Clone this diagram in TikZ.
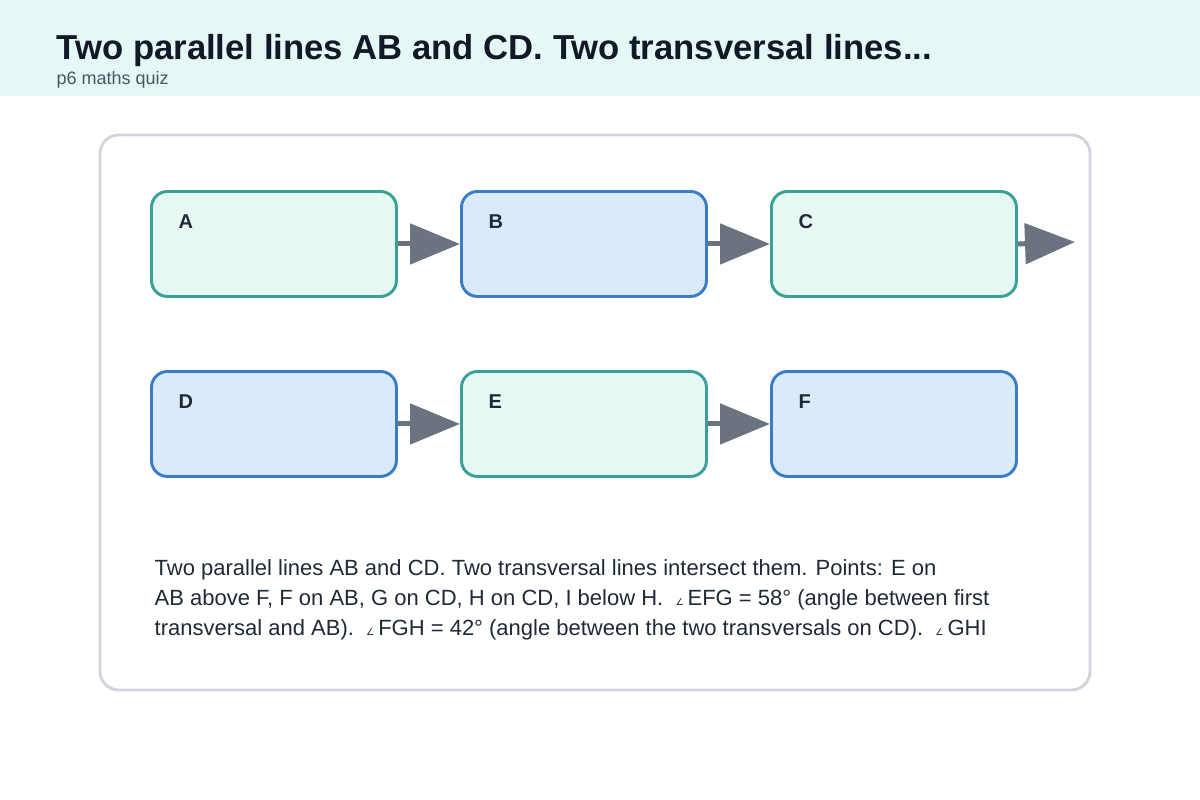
\documentclass[tikz,border=0pt]{standalone}
\usepackage{fontspec}
\setmainfont{Liberation Sans}
\newfontfamily\symfont{DejaVu Sans}
\usetikzlibrary{positioning}
\usetikzlibrary{arrows.meta}
\definecolor{headbg}{HTML}{E6F8F5}
\definecolor{titlecol}{HTML}{111827}
\definecolor{subcol}{HTML}{4B5563}
\definecolor{panelcol}{HTML}{D1D5DB}
\definecolor{tealfill}{HTML}{E6F7F4}
\definecolor{tealline}{HTML}{3AA198}
\definecolor{bluefill}{HTML}{DBEAFA}
\definecolor{blueline}{HTML}{3B7CC9}
\definecolor{arrowcol}{HTML}{6B7280}
\definecolor{textcol}{HTML}{1F2937}
\newcommand{\angsym}{{\symfont\scriptsize ∠}}

\begin{document}
\begin{tikzpicture}[
  x=0.75pt, y=-0.75pt,
  stepbox/.style = {draw, line width=2.2pt, rounded corners=12pt,
    minimum width=183.75pt, minimum height=78.75pt, anchor=north west},
  tealbox/.style = {stepbox, fill=tealfill, draw=tealline},
  bluebox/.style = {stepbox, fill=bluefill, draw=blueline},
  tag/.style = {font=\bfseries\fontsize{15}{18}\selectfont, text=textcol, anchor=base west},
  link/.style = {line width=3.75pt, draw=arrowcol,
    -{Triangle[length=37.5pt, width=30pt, fill=arrowcol]}},
  para/.style = {font=\fontsize{16.5}{20}\selectfont, text=textcol, anchor=base west}
]

  \useasboundingbox (0,0) rectangle (1200,800);
  \fill[headbg] (0,0) rectangle (1200,96);
  \node[anchor=base west, text=titlecol, font=\bfseries\fontsize{26}{30}\selectfont]
    (title) at (52,59) {Two parallel lines AB and CD. Two transversal lines...};
  \node[anchor=base west, text=subcol, font=\fontsize{13.5}{16}\selectfont]
    (sub) at (52,84) {p6 maths quiz};

  \draw[panelcol, line width=2.2pt, rounded corners=14pt] (100,135) rectangle (1090,690);

  % first row
  \node[tealbox] (A) at (150,190) {};
  \node[bluebox] (B) at (460,190) {};
  \node[tealbox] (C) at (770,190) {};
  % second row
  \node[bluebox] (D) at (150,370) {};
  \node[tealbox] (E) at (460,370) {};
  \node[bluebox] (F) at (770,370) {};

  \foreach \n in {A,B,C,D,E,F}
    \node[tag] at ([xshift=18pt,yshift=-28.5pt]\n.north west) {\n};

  \coordinate (end) at (1075,242);
  \draw[link] (A.east) -- (B.west);
  \draw[link] (B.east) -- (C.west);
  \draw[link] (C.east) -- (end);
  \draw[link] (D.east) -- (E.west);
  \draw[link] (E.east) -- (F.west);

  \node[para] (l1) at (150,575) {Two parallel lines AB and CD. Two transversal lines intersect them. Points: E on};
  \node[para] (l2) at (150,605) {AB above F, F on AB, G on CD, H on CD, I below H. \ \angsym\,EFG = 58° (angle between first};
  \node[para] (l3) at (150,635) {transversal and AB). \ \angsym\,FGH = 42° (angle between the two transversals on CD). \ \angsym\,GHI};

\end{tikzpicture}
\end{document}
